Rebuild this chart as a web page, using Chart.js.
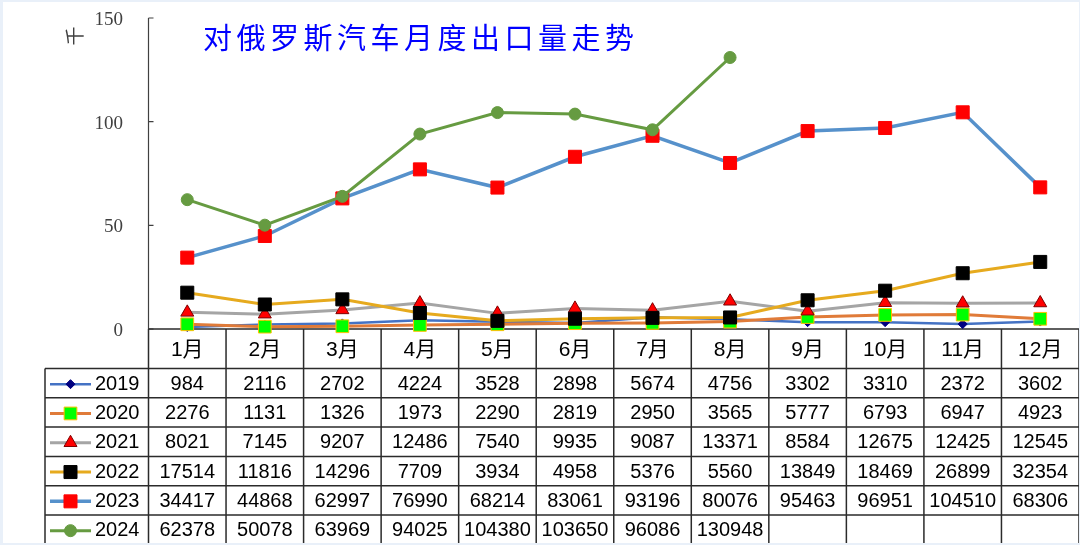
<!DOCTYPE html>
<html>
<head>
<meta charset="utf-8">
<script src="https://cdn.jsdelivr.net/npm/chart.js@4.4.1/dist/chart.umd.min.js"></script>
<style>
  html, body { margin: 0; padding: 0; background: #fff; }
  canvas { display: block; }
</style>
</head>
<body>
<canvas id="graph" width="1080" height="545"></canvas>
<script>
const months = ['1月', '2月', '3月', '4月', '5月', '6月', '7月', '8月', '9月', '10月', '11月', '12月'];
const years = ['2019', '2020', '2021', '2022', '2023', '2024'];

const v2019 = [984, 2116, 2702, 4224, 3528, 2898, 5674, 4756, 3302, 3310, 2372, 3602];
const v2020 = [2276, 1131, 1326, 1973, 2290, 2819, 2950, 3565, 5777, 6793, 6947, 4923];
const v2021 = [8021, 7145, 9207, 12486, 7540, 9935, 9087, 13371, 8584, 12675, 12425, 12545];
const v2022 = [17514, 11816, 14296, 7709, 3934, 4958, 5376, 5560, 13849, 18469, 26899, 32354];
const v2023 = [34417, 44868, 62997, 76990, 68214, 83061, 93196, 80076, 95463, 96951, 104510, 68306];
const v2024 = [62378, 50078, 63969, 94025, 104380, 103650, 96086, 130948];

const yTicks = [0, 50, 100, 150];
const unitLabel = '千';
const titleText = '对俄罗斯汽车月度出口量走势';

const allValues = [v2019, v2020, v2021, v2022, v2023, v2024];

// look of each series (line colour, marker)
const looks = [
  { line: '#4472C4', fill: '#000080', stroke: '#000080', shape: 'rectRot', r: 4.5, w: 2.5 },
  { line: '#E07B39', fill: '#00FF00', stroke: '#FFC000', shape: 'rect', r: 9, w: 3 },
  { line: '#A5A5A5', fill: '#FF0000', stroke: '#7F0000', shape: 'triangle', r: 7.5, w: 3 },
  { line: '#E6AA1E', fill: '#000000', stroke: '#000000', shape: 'rect', r: 9.2, w: 3 },
  { line: '#5691CB', fill: '#FF0000', stroke: '#FF0000', shape: 'rect', r: 9.2, w: 3.5 },
  { line: '#669B41', fill: '#669B41', stroke: '#669B41', shape: 'circle', r: 6, w: 3 }
];

const datasets = years.map((yr, i) => ({
  label: yr,
  data: allValues[i].map(v => v / 1000),
  borderColor: looks[i].line,
  borderWidth: looks[i].w,
  backgroundColor: looks[i].fill,
  pointBackgroundColor: looks[i].fill,
  pointBorderColor: looks[i].stroke,
  pointBorderWidth: 1,
  pointStyle: looks[i].shape,
  pointRadius: looks[i].r,
  tension: 0,
  clip: false,
  order: years.length - i
}));

function marker(ctx, shape, cx, cy, r, fill, stroke) {
  ctx.beginPath();
  if (shape === 'rect') {
    const s = r * Math.SQRT1_2;
    ctx.rect(cx - s, cy - s, 2 * s, 2 * s);
  } else if (shape === 'rectRot') {
    ctx.moveTo(cx, cy - r); ctx.lineTo(cx + r, cy); ctx.lineTo(cx, cy + r); ctx.lineTo(cx - r, cy);
    ctx.closePath();
  } else if (shape === 'triangle') {
    for (let k = 0; k < 3; k++) {
      const a = -Math.PI / 2 + k * 2 * Math.PI / 3;
      const px = cx + Math.cos(a) * r, py = cy + Math.sin(a) * r;
      if (k === 0) ctx.moveTo(px, py); else ctx.lineTo(px, py);
    }
    ctx.closePath();
  } else {
    ctx.arc(cx, cy, r, 0, Math.PI * 2);
  }
  ctx.fillStyle = fill;
  ctx.fill();
  ctx.strokeStyle = stroke;
  ctx.lineWidth = 1;
  ctx.stroke();
}

const tablePlugin = {
  id: 'tablePlugin',
  beforeDraw(chart) {
    const ctx = chart.ctx;
    ctx.save();
    ctx.fillStyle = '#fff';
    ctx.fillRect(0, 0, chart.width, chart.height);
    ctx.restore();
  },
  beforeDatasetsDraw(chart) {
    const { ctx, chartArea, scales } = chart;
    const xs = scales.x, ys = scales.y;
    const left = chartArea.left, right = chartArea.right;
    const base = ys.getPixelForValue(0);
    const headH = 39.5, rowH = 29.3, legL = 45;
    const colW = (right - left) / months.length;
    const tableTop = base + headH;

    ctx.save();
    // y axis + inner ticks + tick labels
    ctx.strokeStyle = '#404040';
    ctx.lineWidth = 1.2;
    ctx.beginPath();
    ctx.moveTo(left, ys.getPixelForValue(yTicks[yTicks.length - 1]));
    ctx.lineTo(left, base);
    yTicks.forEach(t => {
      const py = ys.getPixelForValue(t);
      ctx.moveTo(left, py);
      ctx.lineTo(left + 5, py);
    });
    ctx.stroke();
    ctx.fillStyle = '#404040';
    ctx.font = '19px "Liberation Serif"';
    ctx.textAlign = 'right';
    ctx.textBaseline = 'middle';
    yTicks.forEach(t => {
      ctx.fillText(String(t), 123, ys.getPixelForValue(t) + 2);
    });

    // unit label
    ctx.save();
    ctx.translate(75, 36);
    ctx.rotate(-Math.PI / 2);
    ctx.font = '19px "Noto Sans CJK SC"';
    ctx.textAlign = 'center';
    ctx.fillText(unitLabel, 0, 0);
    ctx.restore();

    // title
    ctx.fillStyle = '#0000FF';
    ctx.font = '29px "Noto Sans CJK SC"';
    ctx.textAlign = 'left';
    ctx.letterSpacing = '4.5px';
    ctx.fillText(titleText, 203, 38);
    ctx.letterSpacing = '0px';

    // table grid
    ctx.strokeStyle = '#2b2b2b';
    ctx.lineWidth = 1.5;
    ctx.beginPath();
    ctx.moveTo(left, base);
    ctx.lineTo(right, base);
    for (let c = 0; c <= months.length; c++) {
      const px = left + c * colW;
      ctx.moveTo(px, base);
      ctx.lineTo(px, chart.height);
    }
    for (let r = 0; r < years.length; r++) {
      const py = tableTop + r * rowH;
      ctx.moveTo(legL, py);
      ctx.lineTo(right, py);
    }
    ctx.moveTo(legL, tableTop);
    ctx.lineTo(legL, chart.height);
    ctx.stroke();

    // month header
    ctx.fillStyle = '#000';
    ctx.textAlign = 'center';
    ctx.font = '21px "Liberation Sans", "Noto Sans CJK SC"';
    months.forEach((m, i) => {
      ctx.fillText(m, xs.getPixelForValue(i), base + headH / 2 + 1);
    });

    // rows
    years.forEach((yr, r) => {
      const cy = tableTop + r * rowH + rowH / 2 + 1;
      const lk = looks[r];
      ctx.strokeStyle = lk.line;
      ctx.lineWidth = lk.w;
      ctx.beginPath();
      ctx.moveTo(50, cy);
      ctx.lineTo(91, cy);
      ctx.stroke();
      marker(ctx, lk.shape, 70.5, cy, lk.r, lk.fill, lk.stroke);
      ctx.fillStyle = '#000';
      ctx.font = '20px "Liberation Sans"';
      ctx.textAlign = 'left';
      ctx.fillText(yr, 95, cy);
      ctx.textAlign = 'center';
      allValues[r].forEach((v, i) => {
        ctx.fillText(String(v), xs.getPixelForValue(i), cy);
      });
    });
    ctx.restore();
  },
  afterDraw(chart) {
    const ctx = chart.ctx;
    ctx.save();
    ctx.fillStyle = '#e9f0f9';
    ctx.fillRect(0, 0, 3, chart.height);
    ctx.fillRect(0, 0, chart.width, 2);
    ctx.fillRect(0, chart.height - 2, chart.width, 2);
    ctx.fillRect(chart.width - 1, 0, 1, chart.height);
    ctx.restore();
  }
};

const config = {
  type: 'line',
  data: { labels: months, datasets: datasets },
  options: {
    responsive: false,
    animation: false,
    layout: { autoPadding: false, padding: { left: 0, top: 18, right: 1, bottom: 216 } },
    plugins: { legend: { display: false }, tooltip: { enabled: false }, title: { display: false } },
    scales: {
      x: { display: false, offset: true },
      y: {
        min: 0,
        max: 150,
        afterFit: s => { s.width = 148.5; },
        grid: { display: false, drawTicks: false },
        border: { display: false },
        ticks: { display: false, stepSize: 50 }
      }
    }
  },
  plugins: [tablePlugin]
};

const myChart = new Chart(document.getElementById('graph'), config);
</script>
</body>
</html>
